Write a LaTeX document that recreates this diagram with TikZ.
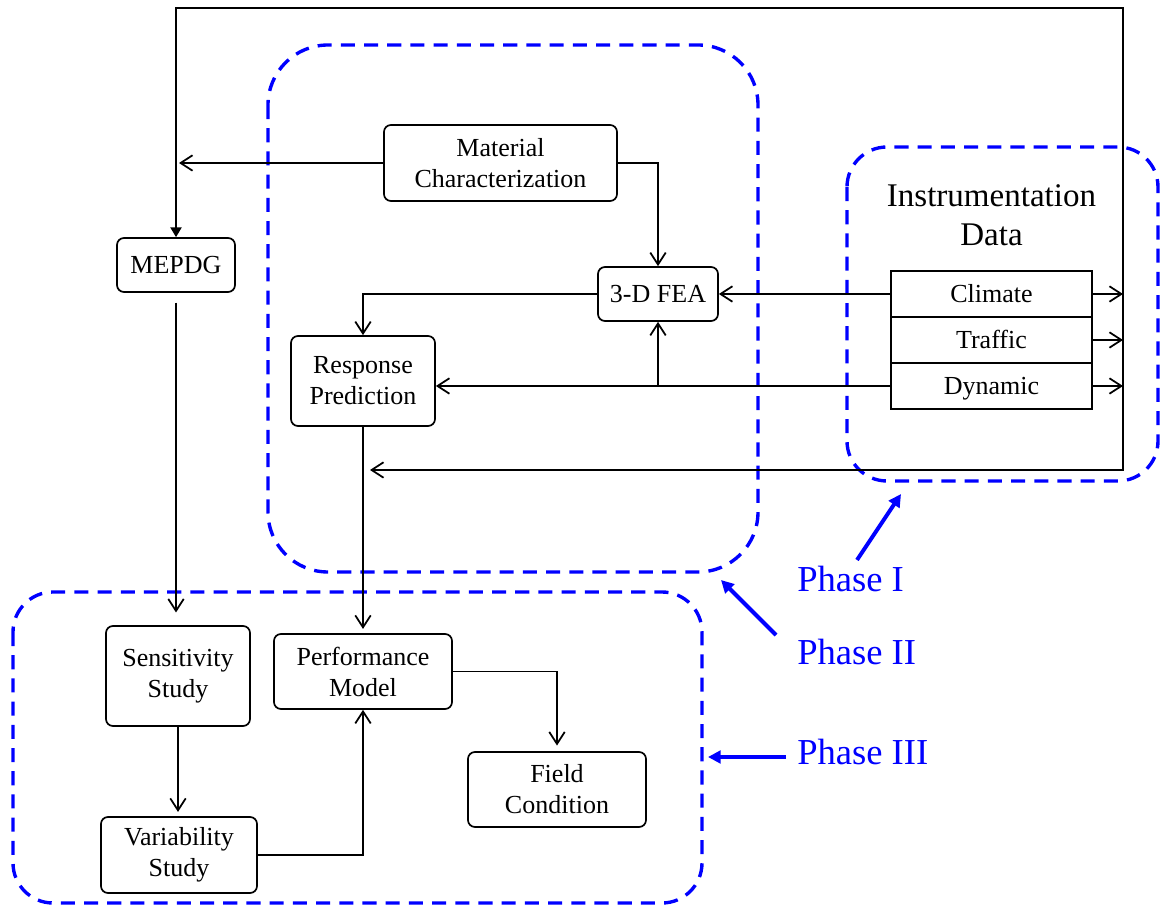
\documentclass[tikz,border=0pt]{standalone}
\usepackage{fontspec}
\setmainfont{Liberation Serif}
\usetikzlibrary{arrows.meta}
\begin{document}
\begin{tikzpicture}[x=0.025cm,y=-0.025cm,
  box/.style={draw,line width=1.2pt,rounded corners=5pt,align=center,inner sep=0pt,font=\fontsize{18.5}{22}\selectfont},
  cell/.style={draw,line width=1.2pt,inner sep=0pt,font=\fontsize{18.5}{22}\selectfont,minimum width=5.025cm,minimum height=1.15cm,text height=14pt,text depth=2pt},
  conn/.style={line width=1.25pt,-{Straight Barb[length=8.5pt,width=11pt]}},
  phasebox/.style={draw=blue,line width=2.4pt,dash pattern=on 10pt off 6.5pt},
  phaselabel/.style={text=blue,font=\fontsize{26}{30}\selectfont,inner sep=0pt,anchor=base west},
  phasearrow/.style={draw=blue,line width=2.8pt,-{Triangle[length=9pt,width=9pt]}}
]
\fill[white] (0,0) rectangle (1160,905);
\useasboundingbox (0,0) rectangle (1160,905);

% phase regions
\draw[phasebox,rounded corners=1.5cm] (268,45) rectangle (758,572);
\draw[phasebox,rounded corners=1cm] (847,147) rectangle (1158,481);
\draw[phasebox,rounded corners=1cm] (13,592) rectangle (702,903);

% nodes
\node[box,minimum width=5.825cm,minimum height=1.9cm] (mat) at (500.5,163) {Material\\Characterization};
\node[box,minimum width=2.95cm,minimum height=1.35cm] (mepdg) at (176,265) {MEPDG};
\node[box,minimum width=3cm,minimum height=1.35cm] (fea) at (658,294) {3-D FEA};
\node[box,minimum width=3.6cm,minimum height=2.25cm] (resp) at (363,381) {Response\\Prediction};
\node[font=\fontsize{23.5}{28}\selectfont,align=center,inner sep=0pt] (inst) at (991.5,215) {Instrumentation\\Data};
\node[cell] (clim) at (991.5,294) {Climate};
\node[cell] (traf) at (991.5,340) {Traffic};
\node[cell] (dyn) at (991.5,386) {Dynamic};
\node[box,minimum width=3.6cm,minimum height=2.5cm] (sens) at (178,676) {Sensitivity\\Study};
\node[box,minimum width=4.45cm,minimum height=1.875cm] (perf) at (363,671.5) {Performance\\Model};
\node[box,minimum width=3.9cm,minimum height=1.9cm] (var) at (179,855) {Variability\\Study};
\node[box,minimum width=4.45cm,minimum height=1.875cm] (field) at (557,789.5) {Field\\Condition};

% coordinates
\coordinate (tl) at (176,8);
\coordinate (tr) at (1123,8);
\coordinate (br) at (1123,470);
\coordinate (loopend) at (370,470);
\coordinate (matTip) at (179,163);

% connectors
\draw[line width=1.25pt,{Straight Barb[length=8.5pt,width=11pt]}-{Triangle[length=7pt,width=8pt]}] (loopend) -- (br) -- (tr) -- (tl) -- (mepdg.north);
\draw[conn] (mat.west) -- (matTip);
\draw[conn] (mat.east) -| (fea.north);
\draw[conn] (fea.west) -| (resp.north);
\draw[conn] (clim.west) -- (fea.east);
\draw[conn] (dyn.west) -- (dyn.west -| resp.east);
\draw[conn] (fea.south |- dyn.west) -- (fea.south);
\draw[conn] (clim.east) -- (clim.east -| br);
\draw[conn] (traf.east) -- (traf.east -| br);
\draw[conn] (dyn.east) -- (dyn.east -| br);
\draw[conn,shorten >=3pt] (resp.south) -- (perf.north);
\draw[conn,shorten <=7pt,shorten >=9pt] (mepdg.south) -- (mepdg.south |- sens.north);
\draw[conn,shorten >=3pt] (sens.south) -- (sens.south |- var.north);
\draw[conn] (var.east) -| (perf.south);
\draw[conn,shorten >=4pt] (perf.east) -| (field.north);

% phase labels
\node[phaselabel] (ph1) at (797,592) {Phase I};
\node[phaselabel] (ph2) at (797,665) {Phase II};
\node[phaselabel] (ph3) at (797,765) {Phase III};
\coordinate (p1s) at (857,560);
\coordinate (p1t) at (901,494);
\coordinate (p2s) at (776,635);
\coordinate (p2t) at (721,580);
\coordinate (p3s) at (786,757);
\coordinate (p3t) at (708,757);
\draw[phasearrow] (p1s) -- (p1t);
\draw[phasearrow] (p2s) -- (p2t);
\draw[phasearrow] (p3s) -- (p3t);
\end{tikzpicture}
\end{document}
